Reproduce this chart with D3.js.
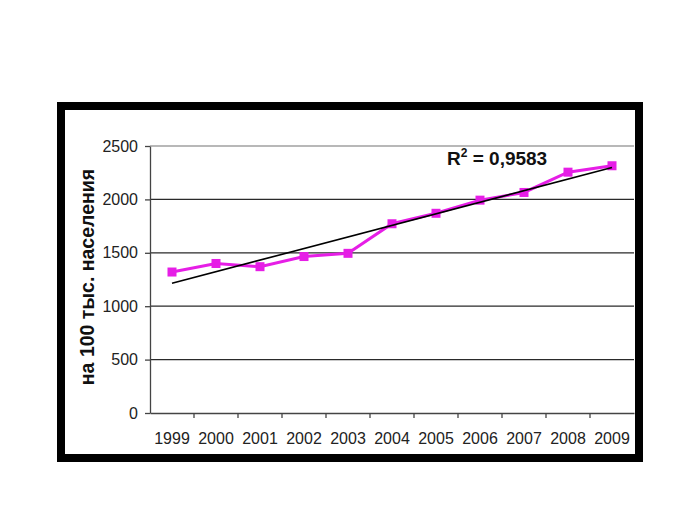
<!DOCTYPE html>
<html><head><meta charset="utf-8">
<script src="https://cdn.jsdelivr.net/npm/d3@7"></script>
<style>body{margin:0;background:#fff}svg{display:block}text{font-family:"Liberation Sans",Arial,sans-serif}</style>
</head><body>
<svg id="c" width="700" height="525"></svg>
<script>
const years = ["1999","2000","2001","2002","2003","2004","2005","2006","2007","2008","2009"];
const values = [1320,1400,1370,1465,1495,1772,1870,1993,2065,2255,2315];
const yTicks = [0,500,1000,1500,2000,2500];
const yLabel = "на 100 тыс. населения";
const r2Text = "0,9583";

const svg = d3.select("#c");
// frame
svg.append("rect").attr("x",61).attr("y",106).attr("width",578).attr("height",352)
  .attr("fill","#fff").attr("stroke","#000").attr("stroke-width",8);

const L=150,R=634,T=146,B=413;
const x = d3.scaleBand().domain(years).range([L,R]);
const y = d3.scaleLinear().domain([0,2500]).range([B,T]);

// gridlines
svg.append("g").selectAll("line").data(yTicks.filter(d=>d>0)).join("line")
  .attr("x1",L).attr("x2",R).attr("y1",d=>y(d)).attr("y2",d=>y(d))
  .attr("stroke",d=>d===2500?"#a0a0a0":"#2a2a2a").attr("stroke-width",1.3);

// y axis
const ya = svg.append("g").attr("transform",`translate(${L},0)`)
  .call(d3.axisLeft(y).tickValues(yTicks).tickFormat(d3.format("d")).tickSize(5).tickPadding(7).tickSizeOuter(0));
ya.select(".domain").attr("stroke","#444").attr("stroke-width",1.3);
ya.selectAll(".tick line").attr("stroke","#444").attr("stroke-width",1.3);
ya.selectAll("text").attr("font-size",16).attr("fill","#222");

// x axis
const xa = svg.append("g").attr("transform",`translate(0,${B})`)
  .call(d3.axisBottom(x).tickSize(0).tickPadding(20).tickSizeOuter(0));
xa.select(".domain").attr("stroke","#444").attr("stroke-width",1.3);
xa.selectAll("text").attr("font-size",16).attr("fill","#222");
const bounds = years.map(d=>x(d)).concat([R]);
svg.append("g").selectAll("line").data(bounds.slice(1,-1)).join("line")
  .attr("x1",d=>d).attr("x2",d=>d).attr("y1",B).attr("y2",B+5)
  .attr("stroke","#444").attr("stroke-width",1.3);

// trendline (least squares)
const n=values.length, idx=d3.range(n);
const mx=d3.mean(idx), my=d3.mean(values);
const slope=d3.sum(idx,i=>(i-mx)*(values[i]-my))/d3.sum(idx,i=>(i-mx)*(i-mx));
const icpt=my-slope*mx;
const cx = d=>x(d)+x.bandwidth()/2;

// data line
svg.append("path").datum(values)
  .attr("d",d3.line().x((d,i)=>cx(years[i])).y(d=>y(d)))
  .attr("fill","none").attr("stroke","#e61ee6").attr("stroke-width",3);
svg.append("g").selectAll("rect").data(values).join("rect")
  .attr("x",(d,i)=>cx(years[i])-4.5).attr("y",d=>y(d)-4.5)
  .attr("width",9).attr("height",9).attr("fill","#e61ee6");

svg.append("line")
  .attr("x1",cx(years[0])).attr("y1",y(icpt))
  .attr("x2",cx(years[n-1])).attr("y2",y(icpt+slope*(n-1)))
  .attr("stroke","#000").attr("stroke-width",1.6);

// R^2 label
const t = svg.append("text").attr("x",447).attr("y",165).attr("font-size",19)
  .attr("font-weight","bold").attr("fill","#111");
t.append("tspan").text("R");
t.append("tspan").attr("font-size",12).attr("dy",-8).text("2");
t.append("tspan").attr("dy",8).text(" = "+r2Text);

// y label
svg.append("text").attr("transform","translate(94,277) rotate(-90)")
  .attr("text-anchor","middle").attr("font-size",19.5).attr("font-weight","bold")
  .attr("fill","#111").text(yLabel);
</script>
</body></html>
